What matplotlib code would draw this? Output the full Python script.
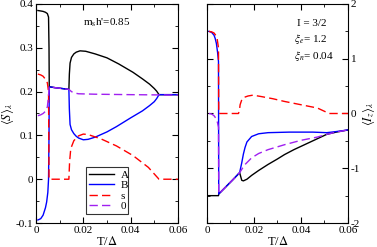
import matplotlib
matplotlib.use("Agg")
import matplotlib.pyplot as plt
from matplotlib.ticker import MultipleLocator

plt.rcParams["font.family"] = ["Liberation Serif", "DejaVu Serif"]
plt.rcParams["mathtext.fontset"] = "stix"

# ---- left panel: <S>_lambda ----
tA = [0.0008, 0.002, 0.003, 0.004, 0.0048, 0.0053, 0.0055, 0.0056, 0.008, 0.011, 0.0139,
      0.0141, 0.0144, 0.015, 0.016, 0.017, 0.0186, 0.021, 0.025, 0.03, 0.035, 0.041,
      0.045, 0.048, 0.05, 0.051, 0.052, 0.055, 0.06]
sA = [0.385, 0.384, 0.383, 0.381, 0.378, 0.37, 0.3, 0.211, 0.209, 0.207, 0.205,
      0.24, 0.265, 0.278, 0.286, 0.29, 0.293, 0.292, 0.286, 0.277, 0.263, 0.244,
      0.229, 0.217, 0.207, 0.201, 0.193, 0.193, 0.193]

tB = [0.0008, 0.002, 0.003, 0.004, 0.0045, 0.005, 0.0053, 0.0055, 0.0056, 0.008, 0.011,
      0.0139, 0.0141, 0.0144, 0.015, 0.016, 0.017, 0.018, 0.02, 0.022, 0.025, 0.03,
      0.034, 0.04, 0.045, 0.048, 0.05, 0.051, 0.052, 0.055, 0.06]
sB = [-0.093, -0.09, -0.082, -0.065, -0.052, -0.03, 0.0, 0.1, 0.211, 0.209, 0.207,
      0.205, 0.16, 0.125, 0.113, 0.104, 0.098, 0.094, 0.09, 0.091, 0.096, 0.108,
      0.12, 0.14, 0.156, 0.168, 0.177, 0.184, 0.193, 0.193, 0.193]

ts = [0.0008, 0.002, 0.003, 0.004, 0.0048, 0.0053, 0.0055, 0.0139, 0.0142, 0.0147,
      0.016, 0.018, 0.02, 0.022, 0.0275, 0.034, 0.041, 0.0475, 0.05, 0.052, 0.06]
ss = [0.24, 0.238, 0.235, 0.228, 0.22, 0.2, 0.0, 0.0, 0.04, 0.07,
      0.088, 0.099, 0.103, 0.102, 0.092, 0.076, 0.054, 0.027, 0.012, 0.0, 0.0]

t0 = [0.0008, 0.002, 0.003, 0.004, 0.0048, 0.0053, 0.0056, 0.008, 0.011, 0.0139,
      0.015, 0.016, 0.018, 0.025, 0.04, 0.06]
s0 = [0.145, 0.147, 0.15, 0.155, 0.165, 0.19, 0.211, 0.209, 0.207, 0.205,
      0.2, 0.197, 0.195, 0.194, 0.193, 0.192]

# ---- right panel: <I_z>_lambda ----
uA = [0.0, 0.002, 0.004, 0.0049, 0.005, 0.008, 0.011, 0.0139, 0.0148, 0.0155, 0.017,
      0.019, 0.022, 0.026, 0.03, 0.033, 0.037, 0.04, 0.044, 0.047, 0.051, 0.055, 0.06]
iA = [-1.5, -1.5, -1.5, -1.5, -1.47, -1.34, -1.21, -1.08, -1.22, -1.23, -1.2,
      -1.13, -1.04, -0.93, -0.83, -0.75, -0.66, -0.6, -0.52, -0.46, -0.38, -0.34, -0.3]

uB = [0.0008, 0.002, 0.003, 0.0035, 0.004, 0.0045, 0.0049, 0.005, 0.008, 0.011, 0.0139,
      0.0144, 0.0148, 0.0155, 0.0162, 0.017, 0.019, 0.022, 0.026, 0.035, 0.045, 0.051,
      0.055, 0.06]
iB = [1.5, 1.48, 1.43, 1.37, 1.28, 1.12, 0.95, -1.47, -1.34, -1.21, -1.08,
      -0.98, -0.9, -0.74, -0.62, -0.52, -0.42, -0.37, -0.35, -0.34, -0.34, -0.35,
      -0.33, -0.3]

us = [0.0008, 0.002, 0.003, 0.0042, 0.0049, 0.005, 0.0134, 0.0138, 0.0141, 0.0148,
      0.0155, 0.0175, 0.0196, 0.023, 0.028, 0.033, 0.04, 0.047, 0.052, 0.06]
i_s = [1.5, 1.49, 1.47, 1.4, 1.2, 0.0, 0.0, 0.05, 0.16, 0.25,
       0.29, 0.32, 0.335, 0.31, 0.27, 0.22, 0.16, 0.1, 0.0, 0.0]

u0 = [0.0008, 0.002, 0.003, 0.004, 0.0045, 0.0049, 0.005, 0.008, 0.011, 0.0139,
      0.016, 0.019, 0.022, 0.026, 0.033, 0.04, 0.047, 0.051, 0.055, 0.06]
i0 = [0.0, -0.01, -0.04, -0.1, -0.17, -0.25, -1.47, -1.34, -1.21, -1.08,
      -0.94, -0.81, -0.73, -0.66, -0.57, -0.49, -0.43, -0.38, -0.34, -0.3]

purple = "#a020f0"
dash = (0, (6, 3))

fig = plt.figure(figsize=(3.77, 2.47), dpi=100)
ax1 = fig.add_axes([0.0955, 0.097, 0.3765, 0.887])
ax2 = fig.add_axes([0.549, 0.097, 0.374, 0.887])

lw = 1.0
ax1.plot(tA, sA, color="black", lw=lw, label="A")
ax1.plot(tB, sB, color="blue", lw=lw, label="B")
ax1.plot(ts, ss, color="red", lw=lw, ls=dash, label="s")
ax1.plot(t0, s0, color=purple, lw=lw, ls=dash, label="0")

ax2.plot(uA, iA, color="black", lw=lw)
ax2.plot(uB, iB, color="blue", lw=lw)
ax2.plot(us, i_s, color="red", lw=lw, ls=dash)
ax2.plot(u0, i0, color=purple, lw=lw, ls=dash)

for ax in (ax1, ax2):
    ax.set_xlim(0, 0.06)
    ax.xaxis.set_major_locator(MultipleLocator(0.02))
    ax.xaxis.set_minor_locator(MultipleLocator(0.01))
    ax.set_xticks([0, 0.02, 0.04, 0.06])
    ax.set_xticklabels(["0", "0.02", "0.04", "0.06"])
    ax.tick_params(which="both", direction="in", top=True, bottom=True,
                   left=True, right=True, labelsize=8, pad=2)
    ax.tick_params(which="major", length=4)
    ax.tick_params(which="minor", length=2)
    ax.set_xlabel(r"T/$\Delta$", fontsize=9, labelpad=0)

ax1.set_ylim(-0.1, 0.4)
ax1.yaxis.set_major_locator(MultipleLocator(0.1))
ax1.yaxis.set_minor_locator(MultipleLocator(0.05))
ax1.set_yticks([-0.1, 0, 0.1, 0.2, 0.3, 0.4])
ax1.set_yticklabels(["-0.1", "0", "0.1", "0.2", "0.3", "0.4"])
ax1.set_ylabel(r"$\langle S\rangle_\lambda$", fontsize=9, labelpad=0)

ax2.set_ylim(-2, 2)
ax2.yaxis.set_major_locator(MultipleLocator(1))
ax2.yaxis.set_minor_locator(MultipleLocator(0.5))
ax2.set_yticks([-2, -1, 0, 1, 2])
ax2.set_yticklabels(["-2", "-1", "0", "1", "2"])
ax2.tick_params(labelleft=False, labelright=True)
ax2.yaxis.set_label_position("right")
ax2.set_ylabel(r"$\langle I_z\rangle_\lambda$", fontsize=9, labelpad=0, rotation=90)

ax1.text(0.33, 0.9, r"m$_\mathrm{s}$h'=0.85", transform=ax1.transAxes, fontsize=8)
ax2.text(0.64, 0.9, "I = 3/2", transform=ax2.transAxes, fontsize=8)
ax2.text(0.62, 0.825, r"$\xi_e$= 1.2", transform=ax2.transAxes, fontsize=8)
ax2.text(0.62, 0.75, r"$\xi_n$= 0.04", transform=ax2.transAxes, fontsize=8)

leg = ax1.legend(loc="lower left", bbox_to_anchor=(0.352, 0.04, 0.296, 0.22),
                 mode="expand", fontsize=8, frameon=True, fancybox=False,
                 handlelength=2.2, handletextpad=0.6, borderpad=0.3,
                 labelspacing=0.05, borderaxespad=0)
leg.get_frame().set_edgecolor("black")
leg.get_frame().set_linewidth(0.8)

fig.savefig("out.png", dpi=100)
